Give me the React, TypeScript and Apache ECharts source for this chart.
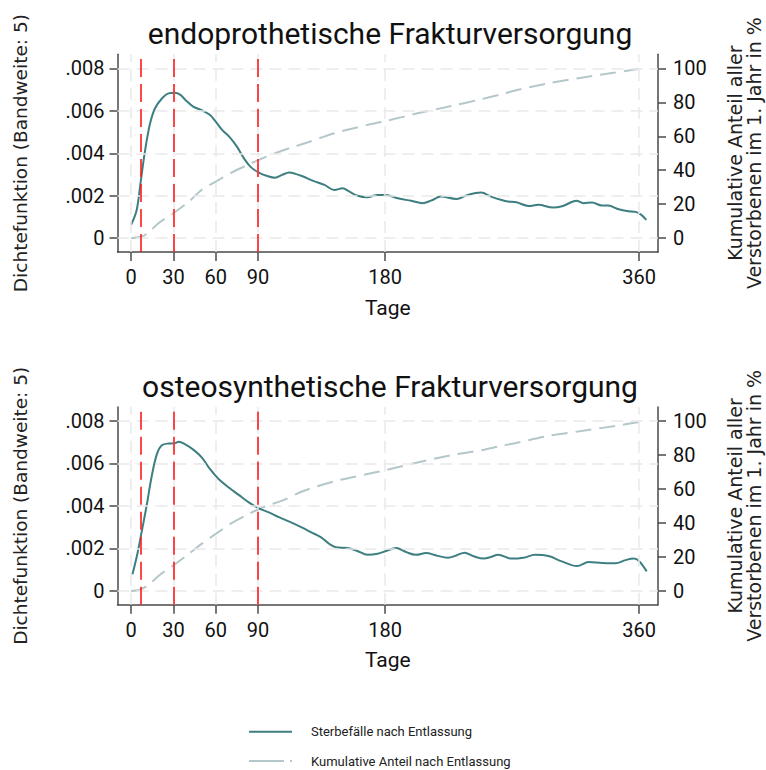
import React, { useEffect, useRef } from "react";
import * as echarts from "echarts";

// ---------- data ----------
const dayTicks = [0, 30, 60, 90, 180, 360];
const densityTicks = [0, 0.002, 0.004, 0.006, 0.008];
const percentTicks = [0, 20, 40, 60, 80, 100];
const markerDays = [7, 30, 90];

const titles = ["endoprothetische Frakturversorgung", "osteosynthetische Frakturversorgung"];
const seriesNames = ["Sterbefälle nach Entlassung", "Kumulative Anteil nach Entlassung"];

// endoprothetisch – density (Bandweite 5)
const endoDensityDays = [0, 4, 7, 10, 13.5, 17, 22, 26.5, 31, 35, 38.5, 44, 51, 56, 60, 64.5, 70, 75, 80, 84.5, 90.5, 96.5, 102, 107, 112, 116.5, 121, 129.5, 137, 144, 150, 154.5, 160.5, 167.5, 174.5, 180.5, 189, 198.5, 206.5, 212.5, 219.5, 230.5, 238.5, 248, 255, 262.5, 267, 273, 281.5, 288.5, 299, 306, 315.5, 320.5, 326.5, 333.5, 338, 345.5, 352.5, 357.5, 361.5, 365];
const endoDensity = [0.00063, 0.00133, 0.00275, 0.00416, 0.00541, 0.00612, 0.00659, 0.00682, 0.00685, 0.00675, 0.00651, 0.0062, 0.006, 0.0058, 0.00549, 0.0051, 0.00475, 0.00431, 0.00376, 0.00337, 0.00309, 0.00293, 0.00285, 0.00298, 0.00309, 0.00303, 0.00293, 0.00269, 0.00251, 0.00227, 0.00235, 0.0022, 0.002, 0.00193, 0.00204, 0.00204, 0.00188, 0.00176, 0.00165, 0.00177, 0.00196, 0.00185, 0.00204, 0.00215, 0.00196, 0.0018, 0.00173, 0.00169, 0.00152, 0.00157, 0.00144, 0.00152, 0.00176, 0.00165, 0.00168, 0.00154, 0.00154, 0.00136, 0.00127, 0.00124, 0.0011, 0.00086];

// endoprothetisch – cumulative share (%)
const endoCumDays = [0, 5, 8.8, 12.3, 19.4, 30, 41, 50, 60, 71.5, 83.5, 90.5, 102, 114, 125.5, 144, 167.5, 180.5, 203, 227, 248, 262.5, 272, 295.5, 319, 343, 360];
const endoCumulative = [0, 0.5, 1.4, 3.3, 8.8, 14.7, 21.6, 28.4, 33.3, 38.8, 43.5, 46.1, 50, 53.5, 56.5, 61.8, 66.7, 69, 73.5, 77.8, 81.8, 84.8, 86.9, 91.2, 94.5, 97.5, 99.7];

// osteosynthetisch – density (Bandweite 5)
const osteoDensityDays = [1, 4.5, 7, 11, 14.7, 18.3, 21.8, 26.5, 30.8, 33.6, 38.4, 44.3, 50.2, 56, 62, 69, 76.3, 83.4, 90.5, 97.6, 104.7, 111.8, 120.5, 127.3, 134.4, 140.3, 145, 153.4, 160.4, 167.5, 174.7, 180.6, 187.7, 194.8, 201.9, 209, 216.2, 224.5, 230.4, 236.3, 242.2, 250, 255, 260, 269.5, 277.9, 286.2, 295.7, 305.2, 315.9, 324.2, 333.7, 343.2, 350.3, 356.2, 359.8, 365.3];
const osteoDensity = [0.00078, 0.00175, 0.0026, 0.004, 0.00542, 0.00644, 0.00686, 0.00694, 0.00695, 0.00702, 0.0069, 0.00664, 0.00628, 0.00573, 0.00527, 0.00488, 0.00452, 0.00417, 0.00389, 0.0037, 0.00347, 0.00327, 0.003, 0.00277, 0.00253, 0.00222, 0.00206, 0.00202, 0.00188, 0.0017, 0.00175, 0.00188, 0.00202, 0.00183, 0.0017, 0.00178, 0.00167, 0.00156, 0.00167, 0.0018, 0.00164, 0.00152, 0.0016, 0.0017, 0.00152, 0.00156, 0.0017, 0.00164, 0.00139, 0.00117, 0.00136, 0.00131, 0.0013, 0.00145, 0.00152, 0.00141, 0.00092];

// osteosynthetisch – cumulative share (%)
const osteoCumDays = [0, 5, 8, 12.3, 19.4, 30, 41, 50, 60, 71.5, 83.4, 95.3, 107, 122, 144, 167.5, 180.6, 203, 227, 248, 262.5, 272, 295.5, 319, 343, 360];
const osteoCumulative = [0, 0.4, 1.4, 3.3, 8.8, 15, 21.9, 27.7, 33.6, 40, 45.3, 49.8, 53.1, 58.8, 64.5, 68.8, 71.1, 75.6, 79.9, 82.8, 85.4, 86.9, 91.2, 94.1, 97.1, 99.5];

// ---------- styling ----------
const TEAL = "#3d7f81";
const GREYBLUE = "#b4c7ca";
const RED = "#ff1a1a";
const AXIS = "#4a4a4a";
const GRIDC = "#e9e9e9";
const NUMFONT = "Roboto";
const NAMEFONT = "DejaVu Sans";

const zip = (xs: number[], ys: number[]) => xs.map((x, i) => [x, ys[i]]);

const PANEL_TOPS = [54.3, 407];
const PANEL_H = 197.7;

function buildOption() {
  const grids: any[] = [];
  const xAxes: any[] = [];
  const yAxes: any[] = [];
  const series: any[] = [];
  const titleArr: any[] = [];
  const panels = [
    { dens: zip(endoDensityDays, endoDensity), cum: zip(endoCumDays, endoCumulative) },
    { dens: zip(osteoDensityDays, osteoDensity), cum: zip(osteoCumDays, osteoCumulative) },
  ];

  panels.forEach((p, i) => {
    const top = PANEL_TOPS[i];
    grids.push({
      left: 117.5,
      right: 108,
      top,
      height: PANEL_H,
      containLabel: false,
      outerBoundsMode: "none",
    });
    titleArr.push({
      text: titles[i],
      left: 385,
      textAlign: "center",
      top: top - 41,
      textStyle: { fontFamily: NUMFONT, fontSize: 30, fontWeight: "normal", color: "#111" },
    });
    xAxes.push({
      type: "value",
      gridIndex: i,
      min: -9.6,
      max: 373.3,
      name: "Tage",
      nameLocation: "middle",
      nameGap: 45,
      nameTextStyle: { fontFamily: NUMFONT, fontSize: 21, color: "#111" },
      axisLine: { show: true, onZero: false, lineStyle: { color: AXIS, width: 1.5 } },
      axisTick: { show: true, length: 9, customValues: dayTicks, lineStyle: { color: AXIS, width: 1.5 } },
      axisLabel: { customValues: dayTicks, margin: 15, fontFamily: NUMFONT, fontSize: 20, color: "#111" },
      splitLine: { show: false },
    });
    const yLeftIndex = yAxes.length;
    yAxes.push({
      type: "value",
      gridIndex: i,
      position: "left",
      min: -0.00065,
      max: 0.00866,
      name: "Dichtefunktion (Bandweite: 5)",
      nameLocation: "middle",
      nameGap: 88,
      nameRotate: 90,
      nameTextStyle: { fontFamily: NAMEFONT, fontSize: 18.5, color: "#222" },
      axisLine: { show: true, onZero: false, lineStyle: { color: AXIS, width: 1.5 } },
      axisTick: { show: true, length: 8, customValues: densityTicks, lineStyle: { color: AXIS, width: 1.5 } },
      axisLabel: {
        customValues: densityTicks,
        margin: 13,
        fontFamily: NUMFONT,
        fontSize: 20,
        color: "#111",
        formatter: (v: number) => (Math.abs(v) < 1e-9 ? "0" : v.toFixed(3).replace(/^0/, "")),
      },
      splitLine: { show: false },
    });
    const yRightIndex = yAxes.length;
    yAxes.push({
      type: "value",
      gridIndex: i,
      position: "right",
      min: -8.125,
      max: 108.25,
      name: "Kumulative Anteil aller\nVerstorbenen im 1. Jahr in %",
      nameLocation: "middle",
      nameGap: 67,
      nameRotate: 90,
      nameTextStyle: { fontFamily: NAMEFONT, fontSize: 19, lineHeight: 19, color: "#222" },
      axisLine: { show: true, onZero: false, lineStyle: { color: AXIS, width: 1.5 } },
      axisTick: { show: true, length: 8, customValues: percentTicks, lineStyle: { color: AXIS, width: 1.5 } },
      axisLabel: { customValues: percentTicks, margin: 15, fontFamily: NUMFONT, fontSize: 20, color: "#111" },
      splitLine: { show: false },
    });

    // grid lines
    series.push({
      type: "line",
      xAxisIndex: i,
      yAxisIndex: yLeftIndex,
      data: [],
      z: 1,
      silent: true,
      markLine: {
        silent: true,
        precision: 6,
        symbol: ["none", "none"],
        label: { show: false },
        lineStyle: { color: GRIDC, width: 1.5, type: [12, 7] },
        data: [
          ...dayTicks.map((d) => ({ xAxis: d })),
          ...densityTicks.map((v) => ({ yAxis: v })),
        ],
      },
    });
    // red reference lines
    series.push({
      type: "line",
      xAxisIndex: i,
      yAxisIndex: yLeftIndex,
      data: [],
      z: 2,
      silent: true,
      markLine: {
        silent: true,
        precision: 6,
        symbol: ["none", "none"],
        label: { show: false },
        lineStyle: { color: RED, width: 1.6, type: [18, 7] },
        data: markerDays.map((d) => ({ xAxis: d })),
      },
    });
    series.push({
      name: seriesNames[1],
      type: "line",
      xAxisIndex: i,
      yAxisIndex: yRightIndex,
      data: p.cum,
      symbol: "none",
      smooth: 0.3,
      z: 3,
      lineStyle: { color: GREYBLUE, width: 2, type: [16, 8] },
      itemStyle: { color: GREYBLUE },
    });
    series.push({
      name: seriesNames[0],
      type: "line",
      xAxisIndex: i,
      yAxisIndex: yLeftIndex,
      data: p.dens,
      symbol: "none",
      smooth: 0.35,
      z: 4,
      lineStyle: { color: TEAL, width: 2 },
      itemStyle: { color: TEAL },
    });
  });

  return {
    animation: false,
    backgroundColor: "#ffffff",
    title: titleArr,
    grid: grids,
    xAxis: xAxes,
    yAxis: yAxes,
    legend: {
      orient: "vertical",
      left: 248,
      top: 724.7,
      height: 70,
      padding: 0,
      itemWidth: 43,
      itemHeight: 14,
      itemGap: 15.3,
      selectedMode: false,
      itemStyle: { color: "rgba(0,0,0,0)", borderColor: "rgba(0,0,0,0)", borderWidth: 0 },
      textStyle: { fontFamily: NUMFONT, fontSize: 13, lineHeight: 14, color: "#222", padding: [0, 0, 0, 14] },
      data: [
        { name: seriesNames[0] },
        { name: seriesNames[1], lineStyle: { type: [35, 6] } },
      ],
    },
    series,
  };
}

export default function App() {
  const ref = useRef<HTMLDivElement>(null);
  useEffect(() => {
    if (!ref.current) return;
    const chart = echarts.init(ref.current, undefined, { renderer: "svg" });
    chart.setOption(buildOption() as any);
    return () => chart.dispose();
  }, []);
  return (
    <div
      ref={ref}
      style={{ position: "absolute", left: 0, top: 0, width: 766, height: 770, background: "#fff" }}
    />
  );
}
